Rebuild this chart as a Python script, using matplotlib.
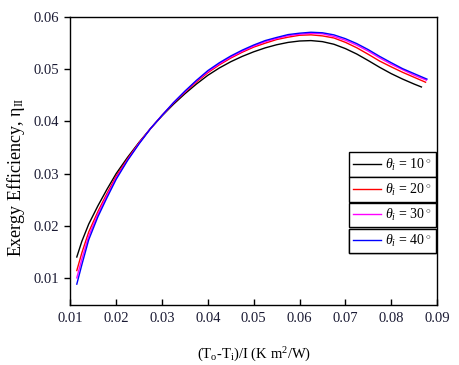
import matplotlib
matplotlib.use("Agg")
import matplotlib.pyplot as plt
from matplotlib.lines import Line2D

# ---- data ----
x_common = [0.0114, 0.0125, 0.014, 0.016, 0.018, 0.020, 0.0225, 0.025, 0.0275, 0.030,
            0.0325, 0.035, 0.0375, 0.040, 0.0425, 0.045, 0.0475, 0.050, 0.0525, 0.055,
            0.0575, 0.060, 0.0625, 0.065, 0.0675, 0.070, 0.0725, 0.075, 0.0775, 0.080,
            0.0825, 0.085]
x_end = [0.0866, 0.0875, 0.0877, 0.0878]

eta_10 = [0.0140, 0.0170, 0.0203, 0.0238, 0.0270, 0.0300, 0.03313, 0.03600, 0.03863, 0.04105,
          0.04328, 0.04530, 0.04715, 0.04883, 0.05023, 0.05143, 0.05245, 0.05333, 0.05408, 0.05468,
          0.05513, 0.05540, 0.05548, 0.05528, 0.05478, 0.05395, 0.05290, 0.05165, 0.05035, 0.04915,
          0.04810, 0.04715, 0.04659]
eta_20 = [0.0114, 0.0148, 0.0188, 0.0227, 0.0262, 0.0295, 0.03283, 0.03590, 0.03863, 0.04115,
          0.04348, 0.04560, 0.04755, 0.04933, 0.05083, 0.05213, 0.05325, 0.05423, 0.05498, 0.05568,
          0.05613, 0.05650, 0.05658, 0.05638, 0.05598, 0.05515, 0.05410, 0.05285, 0.05155, 0.05045,
          0.04940, 0.04845, 0.0475]
eta_30 = [0.0100, 0.0136, 0.0180, 0.0222, 0.0258, 0.0292, 0.03263, 0.03580, 0.03863, 0.04115,
          0.04358, 0.04570, 0.04775, 0.04953, 0.05103, 0.05233, 0.05345, 0.05443, 0.05528, 0.05588,
          0.05643, 0.05670, 0.05688, 0.05678, 0.05628, 0.05555, 0.05460, 0.05345, 0.05215, 0.05095,
          0.04990, 0.04885, 0.0479]
eta_40 = [0.0088, 0.0125, 0.0173, 0.0217, 0.0254, 0.0289, 0.03253, 0.03570, 0.03863, 0.04115,
          0.04358, 0.04580, 0.04785, 0.04973, 0.05123, 0.05253, 0.05365, 0.05463, 0.05548, 0.05608,
          0.05663, 0.05690, 0.05708, 0.05698, 0.05658, 0.05585, 0.05490, 0.05375, 0.05245, 0.05125,
          0.05010, 0.04915, 0.0481]

angles = [10, 20, 30, 40]
series = [eta_10, eta_20, eta_30, eta_40]
colors = ["#000000", "#ff0000", "#ff00ff", "#0000ff"]

x_ticks = [0.01, 0.02, 0.03, 0.04, 0.05, 0.06, 0.07, 0.08, 0.09]
y_ticks = [0.01, 0.02, 0.03, 0.04, 0.05, 0.06]

# ---- style ----
plt.rcParams["font.family"] = ["Liberation Serif", "DejaVu Serif"]
plt.rcParams["mathtext.fontset"] = "custom"
plt.rcParams["mathtext.rm"] = "Liberation Serif"
plt.rcParams["mathtext.it"] = "Liberation Serif:italic"

fig = plt.figure(figsize=(4.6, 3.65), dpi=100)
ax = fig.add_axes([0.153, 0.1644, 0.797, 0.789])

lines = []
for xe, ys, c in zip(x_end, series, colors):
    xs = x_common + [xe]
    ln, = ax.plot(xs, ys, color=c, lw=1.0, solid_joinstyle="round")
    lines.append(ln)

ax.set_xlim(0.01, 0.09)
ax.set_ylim(0.0048, 0.06)
ax.set_xticks(x_ticks)
ax.set_yticks(y_ticks)
ax.set_xticklabels([f"{v:.2f}" for v in x_ticks])
ax.set_yticklabels([f"{v:.2f}" for v in y_ticks])

tick_color = "#1a1a33"
ax.tick_params(axis="y", direction="out", length=4.5, width=1.0, labelsize=10.5,
               labelcolor=tick_color, right=False)
ax.tick_params(axis="x", direction="in", length=4, width=1.0, labelsize=10.5,
               labelcolor=tick_color, top=False, pad=5)
for s in ax.spines.values():
    s.set_linewidth(1.0)

ax.set_xlabel(r"(T$_\mathrm{o}$-T$_\mathrm{i}$)/I (K m$^2$/W)", fontsize=10.5)
ax.xaxis.set_label_coords(0.5, -0.14)
ax.set_ylabel(r"Exergy Efficiency, $\mathrm{\eta_{II}}$", fontsize=13)
ax.yaxis.set_label_coords(-0.118, 0.445)

# separate framed legend boxes, one per series
tops = [0.530, 0.4434, 0.355, 0.265]
for ln, ang, top in zip(lines, angles, tops):
    handle = Line2D([], [], color=ln.get_color(), lw=1.0)
    leg = ax.legend([handle], [rf"$\theta_i$ = {ang}$^\circ$"],
                    loc="upper left", bbox_to_anchor=(0.760, top),
                    frameon=True, fancybox=False, framealpha=1, edgecolor="black",
                    fontsize=10, handlelength=2.0, handletextpad=0.3,
                    borderpad=0.3, borderaxespad=0)
    leg.get_frame().set_linewidth(1.0)
    ax.add_artist(leg)

fig.savefig("out.png", dpi=100)
